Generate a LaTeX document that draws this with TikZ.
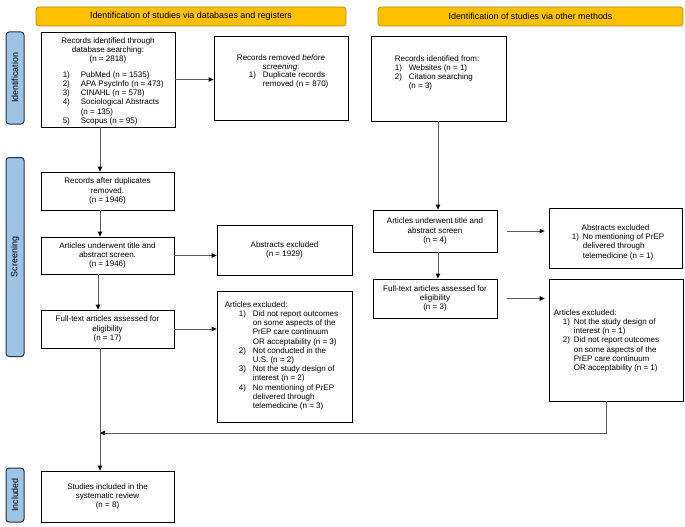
\documentclass[tikz,border=0pt]{standalone}
\usepackage{fontspec}
\setmainfont{Liberation Sans}
\usetikzlibrary{arrows.meta}
\newcommand\fsz{\fontsize{8}{9.2}\selectfont}
\newcommand\hsz{\fontsize{8.9}{10}\selectfont}
\definecolor{hdrfill}{HTML}{FFC000}
\definecolor{hdrborder}{HTML}{B98C00}
\definecolor{sidefill}{HTML}{9DC3E6}
\definecolor{sideborder}{HTML}{2E2E2E}
\definecolor{linegray}{HTML}{5A5A5A}
\begin{document}
\begin{tikzpicture}[x=1pt,y=-1pt,
  box/.style={draw=black, line width=0.8pt, inner sep=0pt, font=\fsz, align=center},
  txt/.style={font=\fsz, inner sep=0pt, align=left},
  hdr/.style={draw=hdrborder, fill=hdrfill, rounded corners=3pt, line width=0.8pt, font=\hsz, inner sep=0pt},
  side/.style={draw=sideborder, fill=sidefill, rounded corners=3pt, line width=1pt, font=\hsz, inner sep=0pt, rotate=90},
  arr/.style={draw=linegray, line width=0.8pt, -{Triangle[length=5pt,width=4.5pt,color=black]}},
  ln/.style={draw=linegray, line width=0.8pt}]
\useasboundingbox (0,0) rectangle (685,527);

% headers
\node[hdr, minimum width=310pt, minimum height=19pt] (h1) at (191,16.5) {Identification of studies via databases and registers};
\node[hdr, minimum width=305pt, minimum height=19pt] (h2) at (530.5,16.5) {Identification of studies via other methods};

% side labels
\node[side, minimum width=92pt, minimum height=18pt] (s1) at (15,78) {Identification};
\node[side, minimum width=199pt, minimum height=18pt] (s2) at (15,257) {Screening};
\node[side, minimum width=54pt, minimum height=18pt] (s3) at (15,495) {Included};

% left column
\node[box, minimum width=134pt, minimum height=95pt] (rec) at (108,79.5) {};
\node[txt, align=center, anchor=north] (rect) at ([yshift=-6pt]rec.north) {Records identified through\\database searching:\\(n = 2818)};
\node[txt, anchor=north west] (recl) at ([xshift=22pt,yshift=-39pt]rec.north west)
 {\begin{tabular}{@{}p{18pt}@{}l@{}}
 1) & PubMed (n = 1535)\\
 2) & APA PsycInfo (n = 473)\\
 3) & CINAHL (n = 578)\\
 4) & Sociological Abstracts\\
    & (n = 135)\\
 5) & Scopus (n = 95)
 \end{tabular}};

\node[box, minimum width=134pt, minimum height=84pt] (rem) at (281,78) {};
\node[txt, align=center, anchor=north] (remt) at ([yshift=-19pt]rem.north) {Records removed \textit{before}\\\textit{screening}:};
\node[txt, anchor=north west] (reml) at ([xshift=35pt,yshift=-35pt]rem.north west)
 {\begin{tabular}{@{}p{14pt}@{}l@{}}
 1) & Duplicate records\\
    & removed (n = 870)
 \end{tabular}};

\node[box, minimum width=133pt, minimum height=38pt] (dup) at (107.5,191) {Records after duplicates\\removed.\\(n = 1946)};
\node[box, minimum width=133pt, minimum height=37pt] (scr) at (107.5,255.5) {Articles underwent title and\\abstract screen.\\(n = 1946)};
\node[box, minimum width=135pt, minimum height=50pt] (abs) at (284.5,250) {Abstracts excluded\\(n = 1929)};
\node[box, minimum width=133pt, minimum height=38pt] (full) at (107.5,329) {Full-text articles assessed for\\eligibility\\(n = 17)};

\node[box, minimum width=135pt, minimum height=131pt] (exc) at (284.5,356.5) {};
\node[txt, anchor=north west] (excl) at ([xshift=8pt,yshift=-10pt]exc.north west)
 {\begin{tabular}{@{}p{14pt}@{}p{14pt}@{}l@{}}
 \multicolumn{3}{@{}l@{}}{Articles excluded:}\\
 & 1) & Did not report outcomes\\
 &    & on some aspects of the\\
 &    & PrEP care continuum\\
 &    & OR acceptability (n = 3)\\
 & 2) & Not conducted in the\\
 &    & U.S. (n = 2)\\
 & 3) & Not the study design of\\
 &    & interest (n = 2)\\
 & 4) & No mentioning of PrEP\\
 &    & delivered through\\
 &    & telemedicine (n = 3)
 \end{tabular}};

\node[box, minimum width=133pt, minimum height=51pt] (inc) at (107.5,496.5) {Studies included in the\\systematic review\\(n = 8)};

% right column
\node[box, minimum width=135pt, minimum height=85pt] (oth) at (438.5,78.5) {};
\node[txt, anchor=north west] (othl) at ([xshift=24pt,yshift=-19pt]oth.north west)
 {\begin{tabular}{@{}p{14pt}@{}l@{}}
 \multicolumn{2}{@{}l@{}}{Records identified from:}\\
 1) & Websites (n = 1)\\
 2) & Citation searching\\
    & (n = 3)
 \end{tabular}};

\node[box, minimum width=124pt, minimum height=42pt] (rscr) at (435,231) {Articles underwent title and\\abstract screen\\(n = 4)};
\node[box, minimum width=133pt, minimum height=60pt] (rabs) at (615.5,238) {};
\node[txt, align=center, anchor=north] (rabst) at ([yshift=-16.5pt]rabs.north) {Abstracts excluded};
\node[txt, anchor=north west] (rabsl) at ([xshift=23pt,yshift=-25.5pt]rabs.north west)
 {\begin{tabular}{@{}p{11pt}@{}l@{}}
 1) & No mentioning of PrEP\\
    & delivered through\\
    & telemedicine (n = 1)
 \end{tabular}};

\node[box, minimum width=124pt, minimum height=39pt] (rfull) at (435,298.5) {Full-text articles assessed for\\eligibility\\(n = 3)};
\node[box, minimum width=134pt, minimum height=122pt] (rexc) at (616,340) {};
\node[txt, anchor=north west] (rexcl) at ([xshift=5pt,yshift=-30pt]rexc.north west)
 {\begin{tabular}{@{}p{9pt}@{}p{11pt}@{}l@{}}
 \multicolumn{3}{@{}l@{}}{Articles excluded:}\\
 & 1) & Not the study design of\\
 &    & interest (n = 1)\\
 & 2) & Did not report outcomes\\
 &    & on some aspects of the\\
 &    & PrEP care continuum\\
 &    & OR acceptability (n = 1)
 \end{tabular}};

% connectors
\coordinate (vx) at (100,0);
\coordinate (vx2) at (98,0);
\coordinate (rvx) at (438,0);
\coordinate (rx) at (606,0);
\coordinate (j) at (100,433);

\draw[arr] (rec.south -| vx) -- (dup.north -| vx);
\draw[arr] (rec.east) -- (rec.east -| rem.west);
\draw[arr] (dup.south -| vx) -- (scr.north -| vx);
\draw[arr] (scr.east) -- (scr.east -| abs.west);
\draw[arr] (scr.south -| vx2) -- (full.north -| vx2);
\draw[arr] (full.east) -- (full.east -| exc.west);
\draw[arr] (full.south -| vx) -- (inc.north -| vx);

\draw[arr] (oth.south -| rvx) -- (rscr.north -| rvx);
\draw[arr] (rscr.south -| rvx) -- (rfull.north -| rvx);
\draw[arr, shorten <=10pt, shorten >=4pt] (rscr.east) -- (rscr.east -| rabs.west);
\draw[arr, shorten <=10pt, shorten >=4pt] (rfull.east) -- (rfull.east -| rexc.west);
\draw[arr] (rexc.south -| rx) |- (j);
\end{tikzpicture}
\end{document}
